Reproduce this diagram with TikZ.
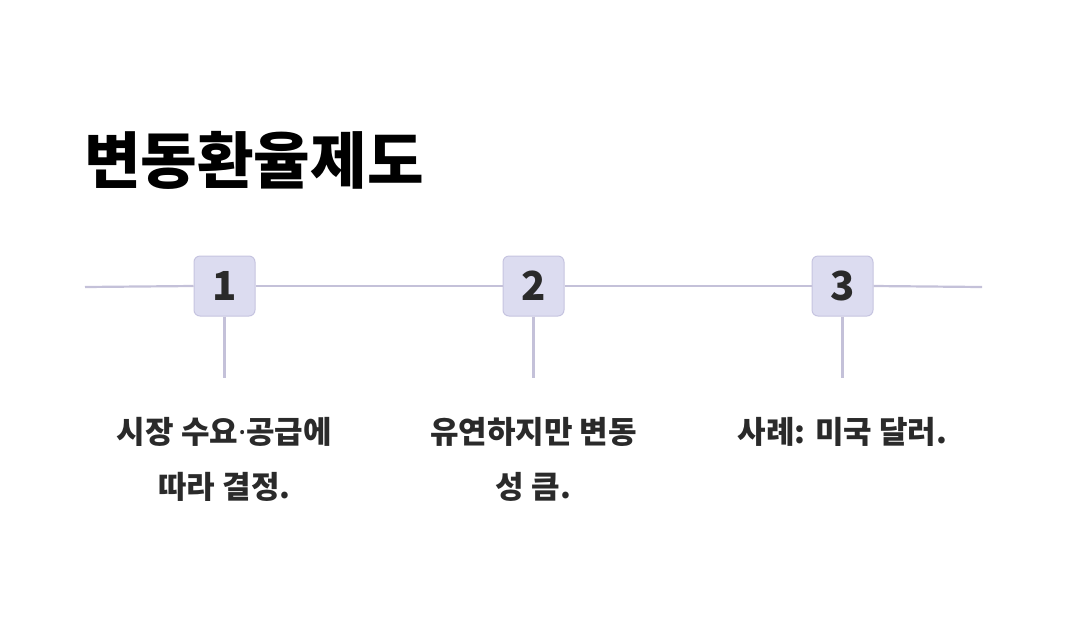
\documentclass[tikz,border=0pt]{standalone}
\usepackage{fontspec}
\setmainfont{Noto Sans}
\newfontfamily\kr{Noto Sans CJK KR}
\usetikzlibrary{positioning}
\definecolor{tlline}{HTML}{C4C1D9}
\definecolor{tlfill}{HTML}{DCDCF0}
\definecolor{tldraw}{HTML}{C6C4E0}
\definecolor{tltext}{HTML}{2A2A2A}

\begin{document}
\begin{tikzpicture}[
    x=1pt, y=-1pt,
    stepbox/.style={draw=tldraw, fill=tlfill, line width=1pt, rounded corners=6pt,
        minimum width=61pt, minimum height=60pt, inner sep=0pt,
        font=\kr\fontsize{40}{40}\selectfont\bfseries, text=tltext},
    tline/.style={draw=tlline, line width=2.2pt},
    stepnote/.style={align=center, anchor=north, inner sep=0pt, text=tltext,
        font=\kr\fontsize{31}{55}\selectfont\bfseries}]

    \useasboundingbox (0,0) rectangle (1068,630);

    % ================= title =================
    \node[anchor=west, inner sep=0pt, font=\kr\fontsize{61.5}{64}\selectfont\bfseries] (title)
        at (84,160) {변동환율제도};

    % ================= the time line =================
    \coordinate (lstart) at (85,287);
    \coordinate (lend) at (982,287);
    \node[stepbox] (s1) at (224.5,286) {1};
    \node[stepbox] (s2) at (533.5,286) {2};
    \node[stepbox] (s3) at (842.5,286) {3};

    \draw[tline] (lstart) -- (s1.west);
    \draw[tline] (s1.east) -- (s2.west);
    \draw[tline] (s2.east) -- (s3.west);
    \draw[tline] (s3.east) -- (lend);

    % each step hangs a stem down to its note -
    \coordinate (t1) at (224.5,378);
    \coordinate (t2) at (533.5,378);
    \coordinate (t3) at (842.5,378);
    \draw[tline] (s1.south) -- (t1);
    \draw[tline] (s2.south) -- (t2);
    \draw[tline] (s3.south) -- (t3);

    % ================= notes =================
    \node[stepnote] (n1) at (224.5,417) {시장 수요{\rmfamily·}공급에\\따라 결정.};
    \node[stepnote] (n2) at (533.5,417) {유연하지만 변동\\성 큼.};
    \node[stepnote] (n3) at (842.5,417) {사례: 미국 달러.};
\end{tikzpicture}
\end{document}
